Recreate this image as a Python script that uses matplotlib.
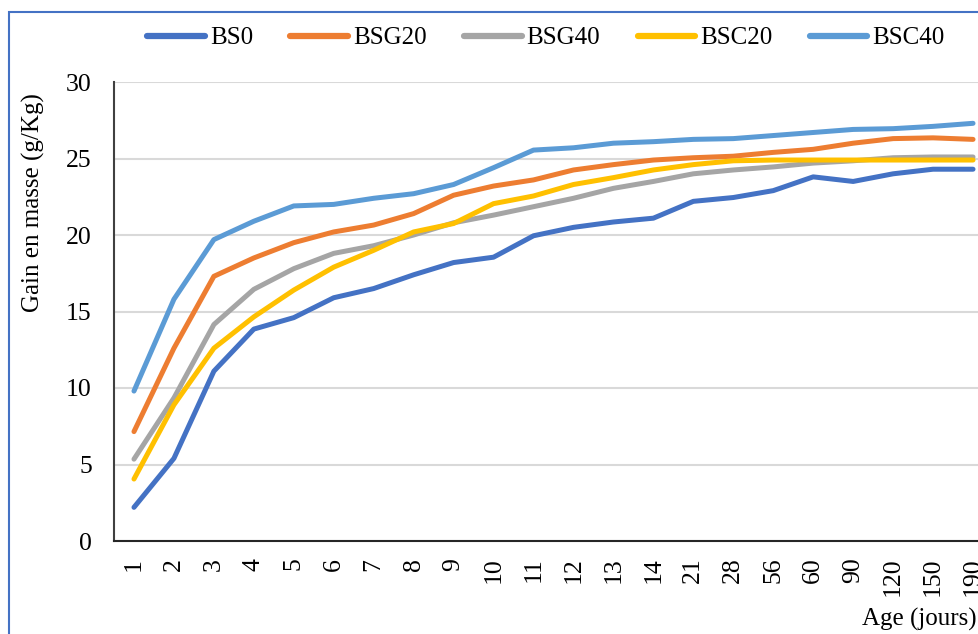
import matplotlib.pyplot as plt
from matplotlib.patches import Rectangle

plt.rcParams['font.family'] = ['Liberation Serif', 'DejaVu Serif']

ages = ['1', '2', '3', '4', '5', '6', '7', '8', '9', '10', '11',
        '12', '13', '14', '21', '28', '56', '60', '90', '120', '150', '190']

bs0 = [2.2, 5.4, 11.1, 13.85, 14.6, 15.9, 16.5, 17.4, 18.2, 18.55, 19.95,
       20.5, 20.85, 21.1, 22.2, 22.45, 22.9, 23.8, 23.5, 24.0, 24.3, 24.3]
bsg20 = [7.15, 12.6, 17.3, 18.5, 19.5, 20.2, 20.65, 21.4, 22.6, 23.2, 23.6,
         24.25, 24.6, 24.9, 25.05, 25.15, 25.4, 25.6, 26.0, 26.3, 26.35, 26.25]
bsg40 = [5.35, 9.35, 14.15, 16.45, 17.8, 18.8, 19.3, 20.0, 20.8, 21.3, 21.85,
         22.4, 23.05, 23.5, 24.0, 24.25, 24.45, 24.7, 24.85, 25.05, 25.1, 25.1]
bsc20 = [4.05, 8.9, 12.6, 14.65, 16.4, 17.9, 19.0, 20.2, 20.75, 22.05, 22.55,
         23.3, 23.75, 24.25, 24.6, 24.85, 24.9, 24.9, 24.9, 24.9, 24.9, 24.9]
bsc40 = [9.8, 15.8, 19.7, 20.9, 21.9, 22.0, 22.4, 22.7, 23.3, 24.4, 25.55,
         25.7, 26.0, 26.1, 26.25, 26.3, 26.5, 26.7, 26.9, 26.95, 27.1, 27.3]

series = [('BS0', bs0, '#4472C4'),
          ('BSG20', bsg20, '#ED7D31'),
          ('BSG40', bsg40, '#A5A5A5'),
          ('BSC20', bsc20, '#FFC000'),
          ('BSC40', bsc40, '#5B9BD5')]

fig = plt.figure(figsize=(9.79, 6.34), dpi=100)
ax = fig.add_axes([114 / 979, 1 - 541 / 634, 879 / 979, 459 / 634])

x = list(range(len(ages)))
for name, vals, col in series:
    ax.plot(x, vals, color=col, lw=3.6, label=name,
            solid_capstyle='round', solid_joinstyle='round')

ax.set_xlim(-0.5, len(ages) - 0.5)
ax.set_ylim(0, 30)
ax.set_yticks(range(0, 31, 5))
ax.set_xticks(x)
ax.set_xticklabels(ages, rotation=90)
ax.tick_params(axis='both', length=0, labelsize=18.5)
ax.tick_params(axis='y', pad=16)
ax.tick_params(axis='x', pad=12)
ax.grid(axis='y', color='#D9D9D9', lw=1.5)
ax.set_axisbelow(True)
for s in ['top', 'right']:
    ax.spines[s].set_visible(False)
ax.spines['left'].set_color('#404040')
ax.spines['left'].set_linewidth(1.5)
ax.spines['bottom'].set_color('#262626')
ax.spines['bottom'].set_linewidth(1.5)

fig.text(33 / 979, 1 - 203 / 634, 'Gain en masse (g/Kg)', rotation=90,
         ha='center', va='center', fontsize=18)
fig.text(862 / 979, 1 - 619 / 634, 'Age (jours)', ha='left', va='center',
         fontsize=18)

leg = fig.legend(loc='center', bbox_to_anchor=(546 / 979, 1 - 38 / 634),
                 ncol=5, frameon=False, fontsize=18, handlelength=2.3,
                 handletextpad=0.2, columnspacing=1.5)
for h in leg.get_lines():
    h.set_linewidth(4.5)

# outer chart frame
fig.patches.append(Rectangle((9 / 979, -0.1), 1.2, 1.1 - 12 / 634,
                             transform=fig.transFigure, fill=False,
                             edgecolor='#4472C4', lw=1.5))

fig.savefig('out.png', dpi=100)
